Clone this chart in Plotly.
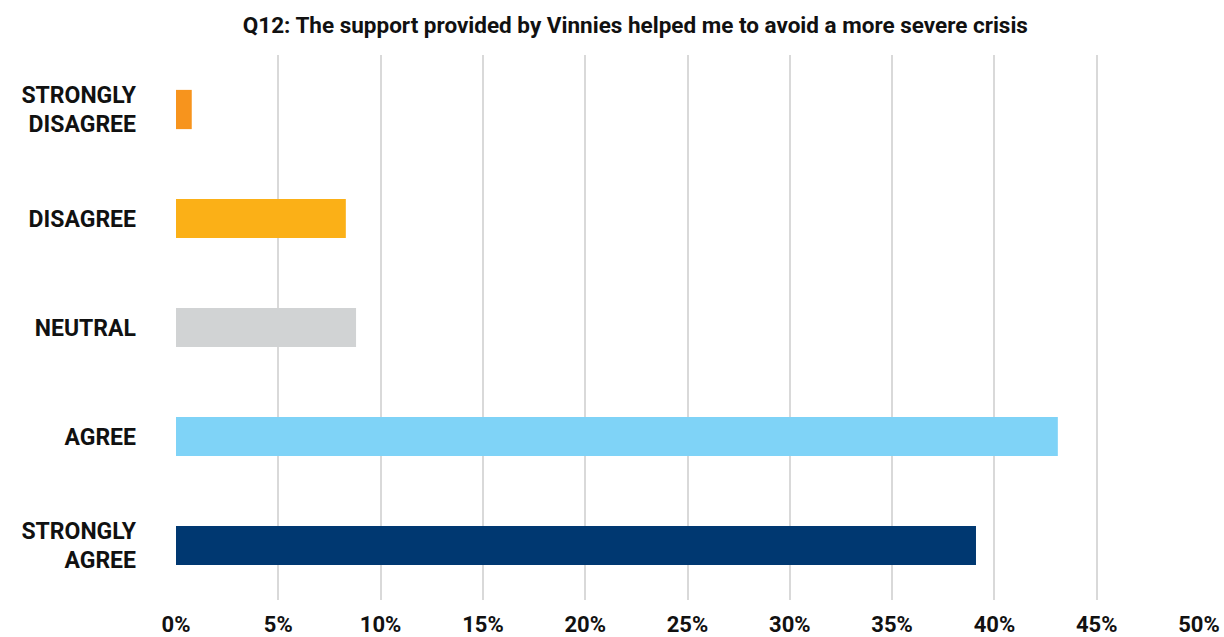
import plotly.graph_objects as go

# Survey responses (share of respondents)
categories = ["STRONGLY<br>DISAGREE", "DISAGREE", "NEUTRAL", "AGREE", "STRONGLY<br>AGREE"]
shares = [0.77, 8.3, 8.8, 43.1, 39.1]
bar_colors = ["#F7941D", "#FBB017", "#D1D3D4", "#7FD3F7", "#003871"]
tick_vals = [0, 5, 10, 15, 20, 25, 30, 35, 40, 45, 50]
tick_text = [f"{v}%" for v in tick_vals]

fig = go.Figure(
    go.Bar(
        x=shares,
        y=categories,
        orientation="h",
        marker=dict(color=bar_colors, line=dict(width=0)),
        width=0.36,
        hoverinfo="x+y",
    )
)

fig.update_layout(
    width=1224,
    height=637,
    paper_bgcolor="white",
    plot_bgcolor="white",
    margin=dict(l=176, r=25, t=55, b=37, autoexpand=False),
    title=dict(
        text="Q12: The support provided by Vinnies helped me to avoid a more severe crisis",
        x=0.449,
        xref="paper",
        xanchor="center",
        y=1 - 25 / 637,
        yanchor="middle",
        font=dict(family="Roboto", size=22.5, color="#111111", weight="bold"),
    ),
    showlegend=False,
    bargap=0.64,
)

fig.update_xaxes(
    range=[0, 50],
    tickvals=tick_vals,
    ticktext=tick_text,
    showgrid=True,
    gridcolor="#D9D9D9",
    gridwidth=2,
    zeroline=False,
    showline=False,
    ticks="",
    automargin=False,
    ticklabelstandoff=9,
    tickfont=dict(family="Roboto", size=22, color="#111111", weight="bold"),
    fixedrange=True,
)

fig.update_yaxes(
    categoryorder="array",
    categoryarray=categories[::-1],
    showgrid=False,
    zeroline=False,
    showline=False,
    ticks="",
    automargin=False,
    ticklabelstandoff=39,
    tickfont=dict(family="Roboto", size=23, color="#111111", weight="bold"),
    fixedrange=True,
)

fig.write_html("out.html")
